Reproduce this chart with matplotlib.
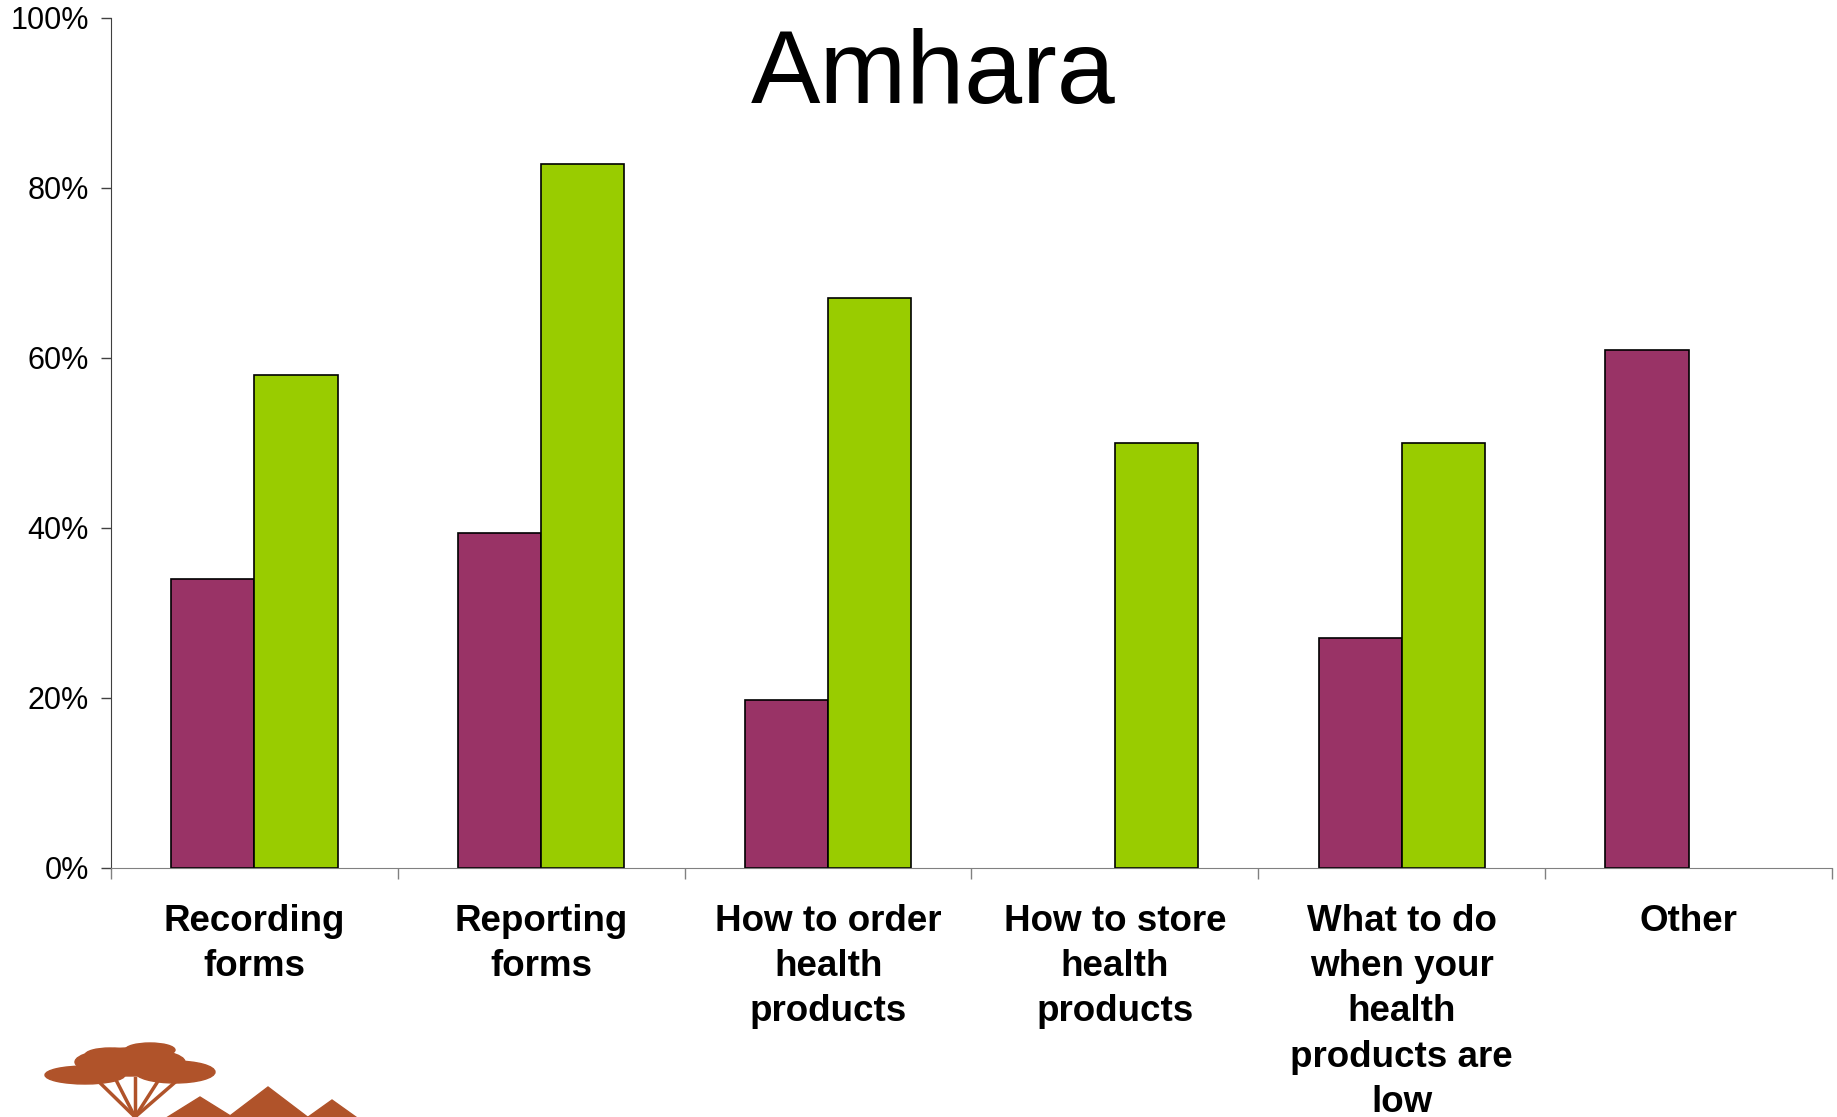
import numpy as np
import matplotlib.pyplot as plt
from matplotlib.patches import Polygon, Ellipse
from matplotlib.ticker import FixedLocator, PercentFormatter

# chart data
categories = ['Recording\nforms', 'Reporting\nforms', 'How to order\nhealth\nproducts',
              'How to store\nhealth\nproducts', 'What to do\nwhen your\nhealth\nproducts are\nlow',
              'Other']
series_a = [0.34, 0.394, 0.197, 0.0, 0.27, 0.609]
series_b = [0.58, 0.828, 0.67, 0.50, 0.50, 0.0]
ytick_vals = [0.0, 0.2, 0.4, 0.6, 0.8, 1.0]

purple = '#993366'
green = '#99CC00'
logo_col = '#B0532A'

plt.rcParams['font.family'] = ['Liberation Sans', 'DejaVu Sans']

fig = plt.figure(figsize=(18.37, 11.17), dpi=100)
ax = fig.add_axes([0.0604, 0.2232, 0.9369, 0.7610])

x = np.arange(len(categories))
w = 0.29
a = np.array(series_a)
b = np.array(series_b)
# empty values get no bar at all (no outline on the axis)
ax.bar(x[a > 0] - w/2, a[a > 0], w, color=purple, edgecolor='black', linewidth=1.2)
ax.bar(x[b > 0] + w/2, b[b > 0], w, color=green, edgecolor='black', linewidth=1.2)

ax.set_xlim(-0.5, len(categories) - 0.5)
ax.set_ylim(0, 1.0)
ax.yaxis.set_major_locator(FixedLocator(ytick_vals))
ax.yaxis.set_major_formatter(PercentFormatter(1.0, decimals=0))
ax.tick_params(axis='y', length=7, width=1, pad=9, labelsize=22, color='#404040')

ax.set_xticks(x)
ax.set_xticklabels(categories, fontsize=26.5, fontweight='bold', linespacing=1.38)
ax.tick_params(axis='x', which='major', length=0, pad=26)
ax.xaxis.set_minor_locator(FixedLocator(np.arange(-0.5, len(categories), 1.0)))
ax.tick_params(axis='x', which='minor', length=8, width=1, color='#808080')

for s in ['top', 'right']:
    ax.spines[s].set_visible(False)
ax.spines['left'].set_color('#404040')
ax.spines['bottom'].set_color('#808080')

fig.text(0.508, 0.9078, 'Amhara', fontsize=75, ha='center', va='baseline')

# rough logo in the bottom-left corner
H = 1117.0
W = 1837.0
def fy(py):
    return 1 - py / H

for px, peak, half in [(200, 1097, 45), (268, 1087, 50), (332, 1100, 35)]:
    tri = Polygon([((px - half) / W, fy(1125)), (px / W, fy(peak)),
                   ((px + half) / W, fy(1125))], closed=True,
                  transform=fig.transFigure, color=logo_col)
    fig.patches.append(tri)
for cx, cy, ew, eh in [(85, 1075, 80, 18), (130, 1062, 110, 28),
                       (175, 1072, 80, 22), (150, 1050, 50, 14), (110, 1055, 50, 14)]:
    fig.patches.append(Ellipse((cx / W, fy(cy)), ew / W, eh / H,
                               transform=fig.transFigure, color=logo_col))
for tx in [95, 115, 135, 160, 180]:
    fig.add_artist(plt.Line2D([tx / W, 135 / W], [fy(1078), fy(1117)],
                              transform=fig.transFigure, color=logo_col, lw=2.5))

fig.savefig('out.png', dpi=100)
